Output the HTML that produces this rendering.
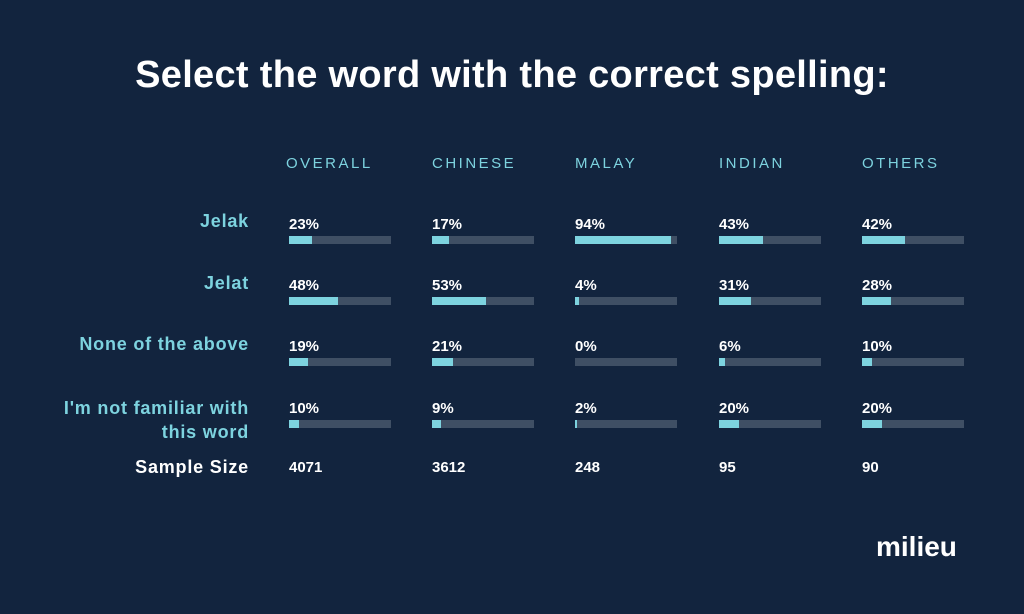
<!DOCTYPE html><html><head><style>
body{margin:0;width:1024px;height:614px;background:#12243e;font-family:"Liberation Sans",sans-serif;position:relative;overflow:hidden}
.a{position:absolute;white-space:nowrap}
.t{left:0;width:1024px;text-align:center;top:54px;font-size:38px;font-weight:bold;color:#fff;letter-spacing:.3px}
.h{top:155px;font-size:15px;letter-spacing:2.5px;color:#7dd3df}
.l{right:775px;font-size:18px;font-weight:bold;color:#7dd3df;text-align:right;letter-spacing:.8px}
.p{font-size:15px;font-weight:bold;color:#fff}
.bar{position:absolute;width:102px;height:8px;background:#3f4f64}
.bar i{display:block;height:8px;background:#7dd3df}
</style></head><body>
<div class="a t">Select the word with the correct spelling:</div>
<div class="a h" style="left:286px">OVERALL</div>
<div class="a h" style="left:432px">CHINESE</div>
<div class="a h" style="left:575px">MALAY</div>
<div class="a h" style="left:719px">INDIAN</div>
<div class="a h" style="left:862px">OTHERS</div>
<div class="a l" style="top:211px">Jelak</div>
<div class="a l" style="top:273px">Jelat</div>
<div class="a l" style="top:334px">None of the above</div>
<div class="a l" style="top:396px;line-height:24px">I'm not familiar with<br>this word</div>
<div class="a l" style="top:457px;color:#fff">Sample Size</div>
<div id="g"></div>
<div class="a" style="left:876px;top:531px;font-size:28px;font-weight:bold;color:#fff">milieu</div>
<script>
var cols=[289,432,575,719,862],rows=[236,297,358,420];
var d=[[23,17,94,43,42],[48,53,4,31,28],[19,21,0,6,10],[10,9,2,20,20]];
var s=[4071,3612,248,95,90],h="";
for(var r=0;r<4;r++)for(var c=0;c<5;c++){
h+='<div class="a p" style="left:'+cols[c]+'px;top:'+(rows[r]-20)+'px">'+d[r][c]+'%</div>';
h+='<div class="bar" style="left:'+cols[c]+'px;top:'+rows[r]+'px"><i style="width:'+d[r][c]+'%"></i></div>';}
for(var c=0;c<5;c++)h+='<div class="a p" style="left:'+cols[c]+'px;top:459px">'+s[c]+'</div>';
document.getElementById('g').innerHTML=h;
</script>
</body></html>
